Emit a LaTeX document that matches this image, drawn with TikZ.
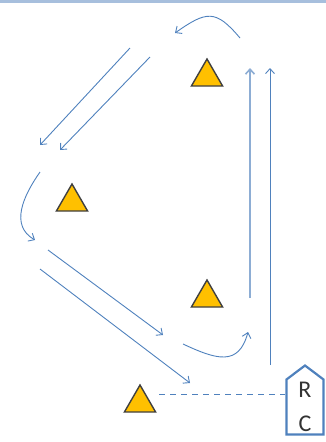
\documentclass[tikz,border=0pt]{standalone}
\usepackage{fontspec}
\setsansfont{Carlito}
\usetikzlibrary{shapes.geometric,shapes.symbols,arrows.meta}
\definecolor{flowblue}{HTML}{4F81BD}
\definecolor{bandblue}{HTML}{A7BFDD}
\definecolor{warnfill}{HTML}{FFC000}

\begin{document}
\begin{tikzpicture}[x=1pt,y=-1pt,
        tri/.style = {draw=black!75, fill=warnfill, line width=1.4pt, regular polygon, regular polygon sides=3, minimum size=36pt, inner sep=0pt},
        rcbox/.style = {draw=flowblue, line width=2.2pt, signal, signal to=north, signal pointer angle=106, minimum width=37pt, minimum height=60pt, inner sep=0pt, align=center, font=\sffamily\fontsize{24}{34}\selectfont, text=black!80},
        flow/.style = {draw=flowblue, line width=0.9pt, -{Straight Barb[length=5pt,width=9pt]}}]
    \useasboundingbox (0,0) rectangle (326,442);
    \fill[bandblue] (0,0) rectangle (326,3);

    \node[tri] (TriTop) at (207,77) {};
    \node[tri] (TriLeft) at (72,202) {};
    \node[tri] (TriMid) at (207,298) {};
    \node[tri] (TriBottom) at (140,403) {};
    \node[rcbox] (RcBox) at (305,407) {R\\C};

    % arrow ends
    \coordinate (LoopTopA) at (240,38);
    \coordinate (LoopTopB) at (175,33);
    \coordinate (DiagA1) at (130,48);
    \coordinate (DiagA2) at (40,145);
    \coordinate (DiagB1) at (150,57);
    \coordinate (DiagB2) at (60,150);
    \coordinate (LoopLeftA) at (40,172);
    \coordinate (LoopLeftB) at (35,240);
    \coordinate (DiagC1) at (48,250);
    \coordinate (DiagC2) at (163,335);
    \coordinate (DiagD1) at (40,269);
    \coordinate (DiagD2) at (190,383);
    \coordinate (LoopLowA) at (183,344);
    \coordinate (LoopLowB) at (248,332);
    \coordinate (UpE1) at (250,298);
    \coordinate (UpE2) at (250,68);
    \coordinate (UpF1) at (270,365);
    \coordinate (UpF2) at (270,68);

    \draw[flow] (LoopTopA) to [out=130, in=35, looseness=1.5] (LoopTopB);
    \draw[flow] (DiagA1) -- (DiagA2);
    \draw[flow] (DiagB1) -- (DiagB2);
    \draw[flow] (LoopLeftA) to [out=235, in=150, looseness=1.1] (LoopLeftB);
    \draw[flow] (DiagC1) -- (DiagC2);
    \draw[flow] (DiagD1) -- (DiagD2);
    \draw[flow] (LoopLowA) to [out=-25, in=255, looseness=1.4] (LoopLowB);
    \draw[flow, line width=1.6pt, draw=flowblue!65] (UpE1) -- (UpE2);
    \draw[flow] (UpF1) -- (UpF2);
    \draw[flowblue, line width=0.9pt, dashed, dash pattern=on 6pt off 5pt] (TriBottom.east) ++(8,-9) -- (RcBox.west |- 0,394);
\end{tikzpicture}
\end{document}
